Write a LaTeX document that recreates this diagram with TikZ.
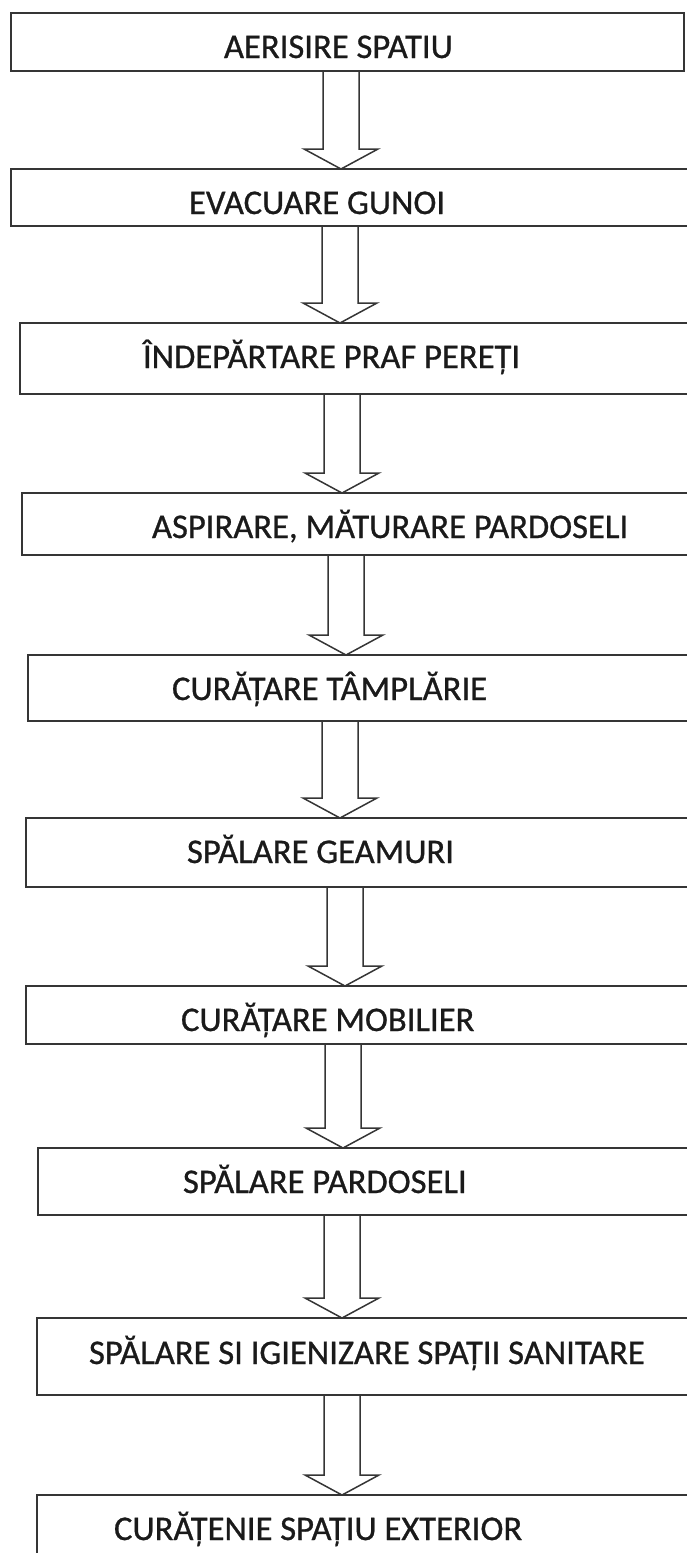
\documentclass[tikz,border=0pt]{standalone}
\usepackage{fontspec}
\setmainfont{Carlito}
\newfontfamily\stepfont{Carlito}[FakeBold=0.8]
\usetikzlibrary{calc}
\definecolor{linegray}{HTML}{353535}
\definecolor{textgray}{HTML}{1A1A1A}
\tikzset{
  stepbox/.style={draw=linegray, line width=1.8pt, rectangle, inner sep=0pt, outer sep=0pt, anchor=north west},
  steptext/.style={anchor=base west, inner sep=0pt, outer sep=0pt, text=textgray, font=\stepfont\fontsize{34.6}{40}\selectfont},
  arrowline/.style={draw=linegray, line width=1.5pt, line join=miter}
}
\newcommand{\blockarr}[3]{%
  \draw[arrowline] let \p1=(#1.south), \p2=(#2.north) in
    (#3-18,\y1) -- (#3-18,\y2+20) -- (#3-37,\y2+20) -- (#3,\y2)
    -- (#3+37,\y2+20) -- (#3+18,\y2+20) -- (#3+18,\y1);
}
\begin{document}
\begin{tikzpicture}[x=1pt,y=1pt]
\useasboundingbox (0,0) rectangle (686,-1553);
% boxes
\node[stepbox, minimum width=673pt, minimum height=58pt] (b1) at (11,-13) {};
\node[stepbox, minimum width=679pt, minimum height=57pt] (b2) at (11,-169) {};
\node[stepbox, minimum width=670pt, minimum height=71pt] (b3) at (20,-323) {};
\node[stepbox, minimum width=668pt, minimum height=62pt] (b4) at (22,-493) {};
\node[stepbox, minimum width=662pt, minimum height=66pt] (b5) at (28,-655) {};
\node[stepbox, minimum width=664pt, minimum height=69pt] (b6) at (26,-818) {};
\node[stepbox, minimum width=664pt, minimum height=58pt] (b7) at (26,-986) {};
\node[stepbox, minimum width=652pt, minimum height=67pt] (b8) at (38,-1148) {};
\node[stepbox, minimum width=653pt, minimum height=77pt] (b9) at (37,-1318) {};
\node[stepbox, minimum width=653pt, minimum height=75pt] (b10) at (37,-1495) {};
% texts
\node[steptext] (t1) at (224,-58) {AERISIRE SPATIU};
\node[steptext] (t2) at (189,-214) {EVACUARE GUNOI};
\node[steptext] (t3) at (143,-368) {ÎNDEPĂRTARE PRAF PEREȚI};
\node[steptext] (t4) at (152,-538) {ASPIRARE, MĂTURARE PARDOSELI};
\node[steptext] (t5) at (172,-700) {CURĂȚARE TÂMPLĂRIE};
\node[steptext] (t6) at (187,-863) {SPĂLARE GEAMURI};
\node[steptext] (t7) at (181,-1031) {CURĂȚARE MOBILIER};
\node[steptext] (t8) at (183,-1193) {SPĂLARE PARDOSELI};
\node[steptext] (t9) at (89,-1364) {SPĂLARE SI IGIENIZARE SPAȚII SANITARE};
\node[steptext] (t10) at (114,-1540) {CURĂȚENIE SPAȚIU EXTERIOR};
% arrows
\blockarr{b1}{b2}{341}
\blockarr{b2}{b3}{340}
\blockarr{b3}{b4}{342}
\blockarr{b4}{b5}{346}
\blockarr{b5}{b6}{340}
\blockarr{b6}{b7}{345}
\blockarr{b7}{b8}{343}
\blockarr{b8}{b9}{342}
\blockarr{b9}{b10}{342}
\end{tikzpicture}
\end{document}
